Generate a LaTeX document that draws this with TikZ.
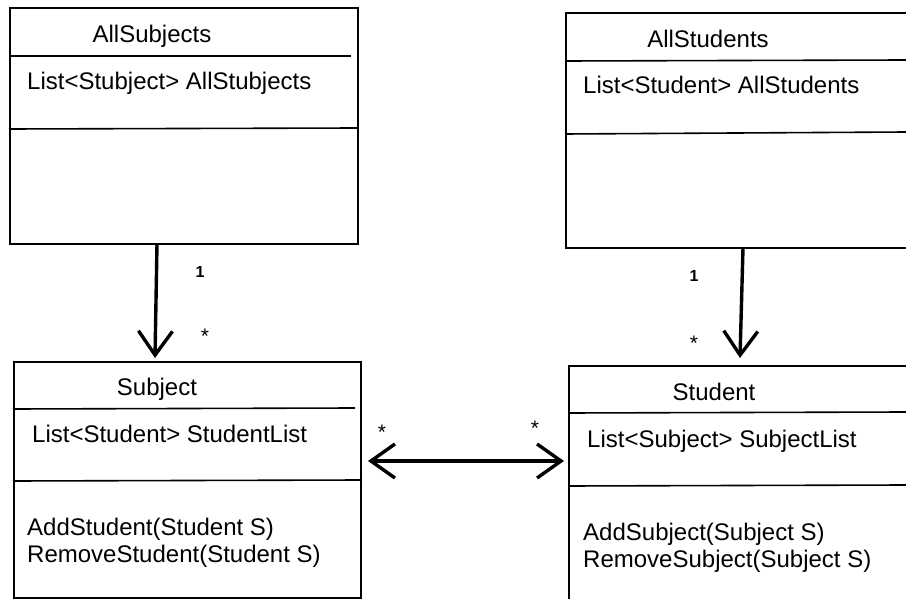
\documentclass[tikz,border=0pt]{standalone}
\usepackage{fontspec}
\setmainfont{Liberation Sans}
\usetikzlibrary{arrows.meta}

\begin{document}
\begin{tikzpicture}[x=1pt,y=-1pt,
    classbox/.style={draw,line width=1.6pt,anchor=north west,inner sep=0pt},
    member/.style={anchor=base west,inner sep=0pt,font=\fontsize{24}{26}\selectfont},
    title/.style={anchor=base,inner sep=0pt,font=\fontsize{24}{26}\selectfont},
    mult/.style={inner sep=0pt,font=\fontsize{16}{16}\selectfont\bfseries},
    many/.style={inner sep=0pt,font=\fontsize{21}{21}\selectfont},
    assoc/.style={line width=3.4pt,{Straight Barb[length=24pt,width=34pt]}-{Straight Barb[length=24pt,width=34pt]}},
    link/.style={line width=3.4pt,-{Straight Barb[length=24pt,width=34pt]}}]
  \useasboundingbox (0,0) rectangle (906,599);
  \clip (0,0) rectangle (906,599);
  % class boxes
  \node[classbox,minimum width=348pt,minimum height=236pt] (allsubjects) at (9,7) {};
  \node[classbox,minimum width=360pt,minimum height=235pt] (allstudents) at (565,12) {};
  \node[classbox,minimum width=347pt,minimum height=236pt] (subject) at (13,361) {};
  \node[classbox,minimum width=360pt,minimum height=260pt] (student) at (568,365) {};
  % compartments
  \draw[line width=1.6pt] (9,56) -- (351,56);
  \draw[line width=1.6pt] (9,129) -- (358,128);
  \draw[line width=1.6pt] (565,61) -- (906,60);
  \draw[line width=1.6pt] (565,134) -- (906,132);
  \draw[line width=1.6pt] (13,409) -- (355,408);
  \draw[line width=1.6pt] (13,481) -- (362,480);
  \draw[line width=1.6pt] (568,413) -- (906,412);
  \draw[line width=1.6pt] (568,486) -- (906,485);
  % texts
  \node[title] (allsubjectsname) at (152,43) {AllSubjects};
  \node[member] (allsubjectsattr) at (27,90) {List<Stubject> AllStubjects};
  \node[title] (allstudentsname) at (708,48) {AllStudents};
  \node[member] (allstudentsattr) at (583,94) {List<Student> AllStudents};
  \node[title] (subjectname) at (157,395) {Subject};
  \node[member] (subjectattr) at (32,442) {List<Student> StudentList};
  \node[member] (subjectop1) at (27,535) {AddStudent(Student S)};
  \node[member] (subjectop2) at (27,562) {RemoveStudent(Student S)};
  \node[title] (studentname) at (714,400) {Student};
  \node[member] (studentattr) at (587,447) {List<Subject> SubjectList};
  \node[member] (studentop1) at (583,540) {AddSubject(Subject S)};
  \node[member] (studentop2) at (583,567) {RemoveSubject(Subject S)};
  % associations
  \coordinate (subjtail) at (157,244);
  \coordinate (subjhead) at (155,358);
  \coordinate (studtail) at (743,248);
  \coordinate (studhead) at (740,358);
  \coordinate (pairleft) at (368,461);
  \coordinate (pairright) at (564,461);
  \draw[link] (subjtail) -- (subjhead);
  \draw[link] (studtail) -- (studhead);
  \draw[assoc] (pairleft) -- (pairright);
  % multiplicities
  \node[mult] (m1) at (200,272) {1};
  \node[many] (m2) at (205,336) {*};
  \node[mult] (m3) at (694,276) {1};
  \node[many] (m4) at (694,343) {*};
  \node[many] (m5) at (382,432) {*};
  \node[many] (m6) at (535,428) {*};
\end{tikzpicture}
\end{document}
